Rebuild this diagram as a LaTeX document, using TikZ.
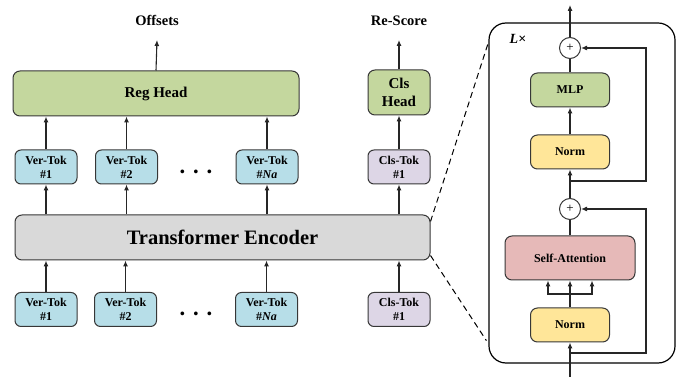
\documentclass[tikz,border=0pt]{standalone}
\usepackage{fontspec}
\setmainfont{Liberation Serif}
\usetikzlibrary{arrows.meta,positioning,calc}
\definecolor{HeadGreen}{RGB}{196,215,158}
\definecolor{TokBlue}{RGB}{183,222,232}
\definecolor{ClsLilac}{RGB}{221,214,230}
\definecolor{EncGray}{RGB}{217,217,217}
\definecolor{NormYellow}{RGB}{255,230,153}
\definecolor{AttnPink}{RGB}{230,185,184}
\definecolor{EdgeGray}{RGB}{55,55,55}

\begin{document}
\begin{tikzpicture}[x=1pt,y=-1pt,>={Latex[length=6pt,width=5pt]},
 blk/.style={draw=EdgeGray,line width=1pt,rounded corners=7pt,inner sep=0pt,align=center,
  font=\bfseries\fontsize{15}{18.5}\selectfont},
 tok/.style={blk,rounded corners=6pt,minimum width=62pt,minimum height=34pt,
  font=\bfseries\fontsize{12}{14}\selectfont},
 vtok/.style={tok,fill=TokBlue},
 ctok/.style={tok,fill=ClsLilac},
 sub/.style={blk,minimum height=34pt,font=\bfseries\fontsize{12}{14}\selectfont},
 addop/.style={circle,draw=EdgeGray,line width=1pt,fill=white,minimum size=21pt,inner sep=0pt,
  font=\fontsize{13}{13}\selectfont},
 outlbl/.style={inner sep=0pt,font=\bfseries\fontsize{14.5}{16}\selectfont},
 flow/.style={->,line width=1.1pt,draw=black!85},
 link/.style={line width=1.1pt,draw=black!85}]
\useasboundingbox (0,0) rectangle (694,379);

% encoder and tokens
\node[blk,fill=EncGray,minimum width=415pt,minimum height=45pt,
 font=\bfseries\fontsize{20.5}{22}\selectfont] (enc) at (222.5,237.5) {Transformer Encoder};
\node[vtok] (vt1) at (46,167) {Ver-Tok\\\#1};
\node[vtok] (vt2) at (126.5,167) {Ver-Tok\\\#2};
\node[vtok] (vtn) at (267,167) {Ver-Tok\\\#\textit{Na}};
\node[ctok] (ct) at (399,167) {Cls-Tok\\\#1};
\node[vtok] (bt1) at (46,309.5) {Ver-Tok\\\#1};
\node[vtok] (bt2) at (125.5,309.5) {Ver-Tok\\\#2};
\node[vtok] (btn) at (266.5,309.5) {Ver-Tok\\\#\textit{Na}};
\node[ctok] (bct) at (399,309.5) {Cls-Tok\\\#1};
\node[font=\bfseries\fontsize{23}{23}\selectfont] (dtop) at (196,175) {· · ·};
\node[font=\bfseries\fontsize{23}{23}\selectfont] (dbot) at (196,317) {· · ·};

% heads
\node[blk,fill=HeadGreen,minimum width=286pt,minimum height=45pt] (reg) at (156,93.5) {Reg Head};
\node[blk,fill=HeadGreen,minimum width=62pt,minimum height=45pt,above=34pt of ct] (clshead) {Cls\\Head};
\coordinate (offtip) at (157,40);
\coordinate (scoretip) at (399,40);
\node[outlbl,above=14pt of offtip] (offs) {Offsets};
\node[outlbl,above=14pt of scoretip] (rescore) {Re-Score};

\foreach \t in {vt1,vt2,vtn,ct}
 \draw[flow] (enc.north -| \t) -- (\t.south);
\foreach \t in {bt1,bt2,btn,bct}
 \draw[flow] (\t.north) -- (\t |- enc.south);
\foreach \t in {vt1,vt2,vtn}
 \draw[flow] (\t.north) -- (\t |- reg.south);
\draw[flow] (ct.north) -- (clshead.south);
\draw[flow] (reg.north) -- (offtip);
\draw[flow] (clshead.north) -- (scoretip);

% one encoder layer
\node[draw=black,line width=1.2pt,rounded corners=17pt,minimum width=186pt,minimum height=340pt] (layer) at (582,193) {};
\node[font=\bfseries\fontsize{14}{14}\selectfont] (rep) at (518,39) {\textit{L}×};
\node[sub,fill=NormYellow,minimum width=79pt] (norm1) at (570,325) {Norm};
\node[sub,fill=AttnPink,minimum width=130pt,minimum height=44pt] (attn) at (570,258) {Self-Attention};
\node[addop] (add1) at (570,209) {+};
\node[sub,fill=NormYellow,minimum width=79pt] (norm2) at (570,152) {Norm};
\node[sub,fill=HeadGreen,minimum width=79pt] (mlp) at (570,90) {MLP};
\node[addop] (add2) at (570,48) {+};
\coordinate (xin) at (570,377);
\coordinate (xout) at (570,5);
\coordinate (skip1) at (570,353);
\coordinate (skip2) at (570,181);
\coordinate (fork) at (570,294);
\coordinate (rail) at (646,0);

\draw[flow] (xin) -- (norm1.south);
\draw[flow] (skip1) -| (rail |- add1) -- (add1.east);
\draw[link] (norm1.north) -- (fork);
\foreach \dx in {-22,0,22}
 \draw[flow] (fork) -| ([xshift=\dx pt]attn.south);
\draw[link] (attn.north) -- (add1.south);
\draw[flow] (add1.north) -- (norm2.south);
\draw[flow] (skip2) -| (rail |- add2) -- (add2.east);
\draw[flow] (norm2.north) -- (mlp.south);
\draw[link] (mlp.north) -- (add2.south);
\draw[flow] (add2.north) -- (xout);

% zoom lines
\draw[line width=1pt,dash pattern=on 6pt off 4pt] ($(enc.north east)+(0,7)$) -- ($(layer.north west)+(0,20)$);
\draw[line width=1pt,dash pattern=on 6pt off 4pt] ($(enc.south east)+(0,-5)$) -- ($(layer.south west)+(-2,-23)$);
\end{tikzpicture}
\end{document}
